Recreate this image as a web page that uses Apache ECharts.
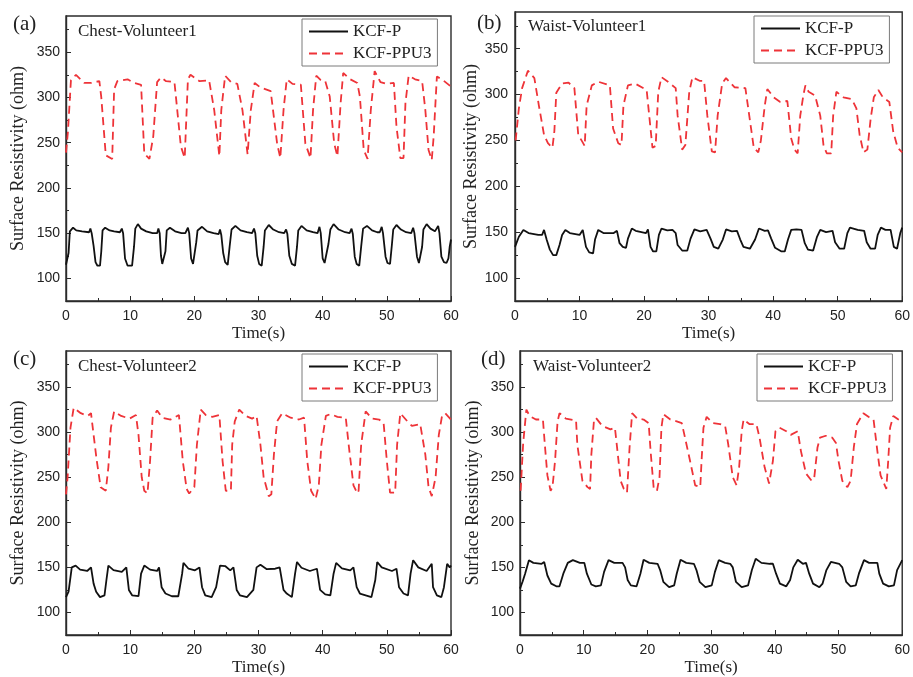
<!DOCTYPE html>
<html>
<head>
<meta charset="utf-8">
<script src="https://cdn.jsdelivr.net/npm/echarts@6/dist/echarts.min.js"></script>
<style>
html,body{margin:0;padding:0;background:#fff;}
#chart{width:913px;height:677px;}
</style>
</head>
<body>
<div id="chart"></div>
<script>
// ---- data: [time (s), surface resistivity (ohm)] ----
const aBlack = [[0,115],[0.2,114],[0.4,128],[0.6,152],[1.1,156],[1.6,153],[2.5,152],[3.6,151],[3.8,155],[4.0,150],[4.3,136],[4.6,118],[4.9,114],[5.3,114],[5.5,130],[5.7,153],[6.1,156],[6.8,153],[7.5,152],[8.4,151],[8.7,155],[8.9,150],[9.2,122],[9.6,114],[10.3,114],[10.6,135],[10.8,155],[11.2,160],[11.7,155],[12.5,152],[13.5,150],[14.2,150],[14.4,155],[14.6,150],[14.8,125],[15.0,116],[15.3,114],[15.5,130],[15.7,153],[16.2,156],[17.0,152],[18.0,150],[18.6,150],[19.0,156],[19.2,150],[19.5,122],[19.8,116],[20.1,116],[20.3,140],[20.5,153],[21.2,157],[22.0,152],[23.0,150],[23.8,149],[24.0,154],[24.2,148],[24.5,128],[24.8,118],[25.2,115],[25.5,135],[25.8,154],[26.4,158],[27.2,153],[28.2,151],[29.0,150],[29.3,155],[29.5,150],[29.8,125],[30.1,116],[30.5,114],[30.8,135],[31.0,153],[31.6,159],[32.3,154],[33.2,151],[34.0,150],[34.3,154],[34.5,149],[34.8,125],[35.2,116],[35.7,114],[36.0,135],[36.2,153],[36.7,158],[37.5,153],[38.5,151],[39.2,150],[39.5,157],[39.7,150],[40.0,122],[40.3,117],[40.6,116],[40.9,138],[41.2,154],[41.7,160],[42.5,154],[43.5,151],[44.2,150],[44.5,155],[44.7,149],[45.0,124],[45.3,116],[45.7,114],[46.0,135],[46.3,155],[46.9,158],[47.7,153],[48.5,151],[48.9,151],[49.2,157],[49.4,150],[49.8,124],[50.1,117],[50.5,116],[50.8,138],[51.0,154],[51.5,159],[52.2,154],[53.0,151],[53.8,150],[54.1,156],[54.3,150],[54.7,124],[55.0,117],[55.3,116],[55.5,135],[55.7,154],[56.2,160],[56.8,155],[57.5,152],[57.8,152],[58.0,158],[58.2,150],[58.5,124],[58.9,118],[59.3,117],[59.6,122],[59.8,135],[60,143]];
const aRed = [[0,239],[0.3,262],[0.77,319],[1.55,325],[2.85,316],[3.9,316],[5.2,318],[5.5,300],[6.2,236],[7.2,232],[7.5,309],[8.0,318],[9.6,320],[10.6,316],[11.7,314],[12.2,238],[13.0,232],[13.6,257],[14.2,317],[14.8,322],[15.6,318],[16.9,317],[17.9,246],[18.5,233],[19.0,320],[19.4,325],[20.8,318],[22.3,319],[23.1,286],[23.9,235],[24.2,286],[24.8,324],[25.7,317],[26.7,315],[27.5,286],[28.3,237],[28.8,286],[29.4,316],[30.3,311],[31.9,307],[32.9,249],[33.4,233],[33.9,286],[34.4,320],[35.3,315],[36.6,314],[37.3,249],[38.1,233],[38.5,286],[39.0,324],[39.7,319],[40.4,318],[41.1,301],[41.8,249],[42.3,235],[42.8,294],[43.2,327],[44.3,320],[45.4,316],[45.8,301],[46.4,242],[47.0,232],[47.5,286],[48.1,329],[49.0,317],[50.0,315],[51.1,316],[51.5,268],[52.1,233],[52.6,233],[52.9,294],[53.4,324],[54.4,320],[55.5,318],[56.0,286],[56.5,242],[57.0,231],[57.3,257],[57.8,323],[58.6,320],[60,312]];
const bBlack = [[0,134],[0.3,134],[0.6,145],[1.3,152.5],[2.1,149],[3.6,147],[4.2,147],[4.5,152.5],[4.9,142],[5.4,131],[5.9,125],[6.4,125],[6.9,136],[7.3,147],[7.8,152.5],[8.5,149],[10.0,147],[10.5,152.5],[11.0,134],[11.5,128],[12.1,127],[12.4,142],[12.9,152.5],[13.7,149],[15.3,149],[15.8,151.5],[16.2,138],[16.7,134],[17.2,133],[17.5,143],[18.1,154],[18.7,151.5],[20.3,149],[20.6,153],[21.0,134],[21.4,129],[21.9,129],[22.3,147],[22.7,154],[23.6,152],[24.4,152.5],[24.9,149],[25.2,136],[25.9,130],[26.7,130],[27.2,143],[27.8,153],[28.7,151],[29.7,152.5],[30.3,143],[30.8,134],[31.5,132],[32.2,142],[32.7,153],[33.6,151],[34.4,151.5],[34.9,142],[35.4,134],[36.4,132],[37.2,142],[37.8,154],[38.7,151.5],[39.2,152],[39.7,143],[40.3,133],[41.3,129],[41.8,129],[42.3,142],[42.8,152.5],[43.6,153],[44.4,152.5],[44.9,138],[45.4,131],[46.2,130],[46.8,145],[47.3,152.5],[48.2,150],[49.2,151.5],[49.6,139],[50.3,132],[51.0,132],[51.5,149],[51.9,155],[53.1,152.5],[54.1,151.5],[54.5,139],[55.1,132],[55.8,132],[56.2,147],[56.7,155],[57.4,152.5],[58.2,152.5],[58.7,134],[59.2,132],[59.7,149],[60,155]];
const bRed = [[0.1,250],[0.6,285],[1.1,307],[2.0,326],[3.0,318],[3.7,288],[4.5,256],[5.1,247],[5.8,242],[6.1,260],[6.4,302],[7.3,312],[8.3,313],[9.2,307],[9.8,256],[10.4,249],[10.8,244],[11.1,288],[11.9,310],[12.9,314],[14.7,310],[15.2,263],[16.0,247],[16.5,245],[16.8,288],[17.5,310],[18.6,312],[20.4,305],[20.9,270],[21.3,242],[21.8,244],[22.2,303],[22.7,319],[23.7,314],[24.9,307],[25.2,277],[25.9,240],[26.4,245],[27.0,303],[27.5,319],[28.6,315],[29.3,315],[29.8,277],[30.5,238],[31.0,237],[31.4,277],[32.1,312],[32.7,318],[34.0,308],[35.7,307],[36.3,277],[37.0,242],[37.7,237],[38.1,250],[38.7,288],[39.1,306],[40.1,297],[41.1,292],[42.2,293],[42.8,252],[43.3,240],[43.8,236],[44.2,277],[44.7,300],[45.0,310],[45.5,303],[46.5,299],[47.3,277],[47.8,245],[48.3,236],[49.0,236],[49.3,277],[49.8,303],[50.9,297],[52.2,295],[52.9,285],[53.4,256],[54.0,237],[54.6,240],[55.1,273],[55.6,297],[56.3,305],[57.0,297],[58.0,292],[58.6,260],[59.3,242],[60,237]];
const cBlack = [[0,117],[0.4,123],[0.9,150],[1.5,152],[2.2,147.5],[3.3,146],[3.9,150],[4.3,132],[4.7,123],[5.3,117],[6.0,119],[6.3,136],[6.6,152],[7.4,147],[8.7,145],[9.4,150],[9.8,125],[10.3,119],[11.3,118],[11.7,143],[12.2,152],[13.1,147.5],[14.2,146],[14.5,150],[14.9,128],[15.5,121],[16.5,118],[17.5,118],[18.1,143],[18.3,155],[19.1,148.5],[20.1,146.7],[20.8,150],[21.2,128],[21.7,119],[22.7,117],[23.4,128],[24.0,152],[24.8,151.5],[25.6,146.7],[26.1,150],[26.6,125],[27.1,119],[28.2,117],[29.2,125],[29.7,150],[30.3,153],[31.3,148],[32.6,148.5],[33.3,150],[33.9,125],[34.4,121],[35.2,117],[35.7,143],[36.0,156],[36.7,149.6],[38.0,146],[39.1,148.5],[39.6,125],[40.4,120],[41.2,119],[41.7,143],[42.1,155],[43.0,149],[44.3,146.7],[44.8,150],[45.3,128],[45.8,121],[47.6,117],[48.2,136],[48.5,156],[49.2,150],[50.8,146],[51.5,148.5],[51.9,128],[52.6,121],[53.3,119],[53.7,143],[54.1,158],[54.9,150],[56.2,146],[57.0,154],[57.2,128],[57.8,119],[58.5,117],[58.9,128],[59.4,154],[59.8,150],[60,152]];
const cRed = [[0,231],[0.25,250],[0.7,305],[1.2,327],[2.3,321],[3.4,318],[3.9,321],[4.3,297],[4.8,268],[5.4,239],[6.2,235],[6.6,261],[7.0,305],[7.5,323],[8.6,318],[9.9,315],[10.9,319],[11.3,297],[11.8,250],[12.2,235],[12.7,232],[13.1,268],[13.5,316],[14.2,324],[15.0,316],[16.3,314],[17.6,319],[18.2,268],[18.8,237],[19.2,232],[20.0,239],[20.4,286],[21.0,325],[21.8,319],[22.8,317],[23.9,319],[24.4,268],[24.9,235],[25.7,235],[25.9,286],[26.3,312],[27.0,325],[28.0,318],[29.0,315],[29.7,318],[30.3,286],[30.8,250],[31.6,229],[32.0,231],[32.4,275],[32.9,312],[33.7,321],[35.0,316],[36.3,314],[37.1,316],[37.6,268],[38.2,235],[38.9,226],[39.4,241],[39.8,286],[40.5,318],[41.2,320],[42.3,317],[43.6,316],[44.1,283],[44.8,241],[45.4,232],[45.6,235],[46.0,286],[46.7,323],[47.7,315],[48.8,314],[49.5,310],[50.0,268],[50.5,233],[51.3,233],[51.6,286],[52.1,321],[53.2,312],[53.9,307],[55.2,309],[56.0,275],[56.5,239],[57.0,229],[57.6,250],[58.1,297],[58.6,318],[59.1,321],[60,314]];
const dBlack = [[0,126.5],[0.4,134],[0.8,143],[1.4,158],[2.1,155],[3.4,154],[3.8,156],[4.3,141],[4.9,132],[5.7,129],[6.2,129],[6.8,143],[7.5,155],[8.3,158],[9.4,155],[10.1,155],[10.5,143],[11.2,131],[11.9,129],[12.7,130],[13.2,145],[13.9,158],[14.8,155],[16.1,155],[16.5,150],[16.9,136],[17.4,130],[18.3,129],[18.9,143],[19.4,158.5],[20.3,155],[21.6,154],[22.0,147],[22.5,134],[23.4,128],[24.2,130],[24.6,143],[25.2,158.5],[26.1,155],[27.3,154],[27.7,147],[28.2,134],[29.1,128],[30.1,130],[30.6,145],[31.2,158],[32.2,155],[33.0,154],[33.4,150],[33.9,134],[34.8,128],[35.8,130],[36.4,147],[37.0,159.6],[37.9,155],[39.2,154],[39.7,154],[40.2,143],[40.8,132],[41.8,129],[42.4,136],[42.9,150],[43.6,158.5],[44.4,154],[44.9,155],[45.4,143],[46.0,132],[47.0,128],[47.5,132],[48.1,147],[48.8,156],[50.1,154],[50.6,150],[51.2,134],[51.9,129],[52.7,130],[53.2,143],[54.0,158],[54.8,155],[56.1,155],[56.4,143],[57.0,132],[57.9,129],[58.7,130],[59.2,147],[60,158]];
const dRed = [[0.1,235],[0.5,288],[1.0,325],[1.5,318],[2.5,314],[3.6,314],[3.9,286],[4.3,252],[4.8,235],[5.1,239],[5.5,268],[5.9,312],[6.2,321],[7.2,315],[8.8,313],[9.0,286],[9.8,246],[10.6,239],[11.0,237],[11.2,275],[11.6,312],[11.9,316],[12.9,307],[14.2,303],[14.9,305],[15.3,279],[15.8,246],[16.3,237],[16.8,233],[17.2,283],[17.6,321],[18.4,315],[19.4,314],[20.2,310],[20.5,279],[21.0,237],[21.5,235],[21.9,250],[22.2,305],[22.5,320],[23.6,314],[24.6,312],[25.4,310],[25.9,294],[26.7,268],[27.5,241],[28.3,239],[28.5,268],[28.8,305],[29.3,317],[30.3,310],[31.4,309],[32.2,307],[32.7,286],[33.4,250],[34.0,241],[34.4,261],[34.8,301],[35.1,314],[36.0,309],[37.1,309],[37.6,294],[38.4,261],[39.1,243],[39.4,243],[39.7,268],[40.1,301],[40.7,305],[41.8,301],[42.5,297],[43.6,301],[44.1,279],[44.9,254],[45.8,246],[46.2,250],[46.7,283],[47.1,294],[48.0,296],[49.0,294],[49.6,288],[50.0,268],[50.6,246],[51.4,239],[51.9,246],[52.4,283],[52.9,309],[53.9,321],[54.7,317],[55.5,314],[56.1,279],[56.6,252],[57.5,237],[57.8,268],[58.1,305],[58.6,318],[59.4,314],[60,316]];

const seriesNames = ['KCF-P', 'KCF-PPU3'];
const panelLetters = ['(a)', '(b)', '(c)', '(d)'];
const panelNotes = ['Chest-Volunteer1', 'Waist-Volunteer1', 'Chest-Volunteer2', 'Waist-Volunteer2'];
const yMajorTicks = [100, 150, 200, 250, 300, 350];
const yMinorTicks = [125, 175, 225, 275, 325, 375];
const xTicks = [0, 10, 20, 30, 40, 50, 60];
const xTitle = 'Time(s)';
const yTitle = 'Surface Resistivity (ohm)';

// ---- layout / style ----
const blackData = [aBlack, bBlack, cBlack, dBlack];
const redData = [aRed, bRed, cRed, dRed];
const grids = [
  {left: 66, top: 16, width: 385, height: 285},
  {left: 515, top: 12, width: 390, height: 289},
  {left: 66, top: 351, width: 385, height: 285},
  {left: 520, top: 351, width: 385, height: 285}
];
const yNameGaps = [39, 33, 39, 38];
const yLabelMargins = [6, 7, 6, 6];
const legendPos = [{left: 302, top: 19}, {left: 754, top: 16}, {left: 302, top: 354}, {left: 757, top: 354}];
const letterPos = [[13, 24], [477, 23], [13, 359], [481, 359]];
const notePos = [[78, 32], [528, 27], [78, 367], [533, 367]];

const SERIF = '"Liberation Serif", "Times New Roman", serif';
const SANS = '"Liberation Sans", Arial, sans-serif';
const AXIS_COLOR = '#2b2b2b';
const RED = '#ee3338';
const BLACK = '#111111';

const chart = echarts.init(document.getElementById('chart'), null, {renderer: 'canvas'});

const option = {
  animation: false,
  backgroundColor: '#ffffff',
  grid: grids.map(g => Object.assign({show: true, borderColor: AXIS_COLOR, borderWidth: 1.4, backgroundColor: 'transparent'}, g)),
  xAxis: grids.map((g, i) => ({
    type: 'value', gridIndex: i, min: 0, max: 60, interval: 10,
    name: xTitle, nameLocation: 'middle', nameGap: 24,
    nameTextStyle: {fontFamily: SERIF, fontSize: 17, color: '#222'},
    axisLine: {show: true, lineStyle: {color: AXIS_COLOR, width: 1.4}},
    axisTick: {show: true, inside: true, length: 5, lineStyle: {color: AXIS_COLOR, width: 1}},
    minorTick: {show: true, splitNumber: 2, length: 3, lineStyle: {color: AXIS_COLOR, width: 1}},
    axisLabel: {fontFamily: SANS, fontSize: 14, color: '#222', margin: 8,
      customValues: xTicks},
    splitLine: {show: false}, minorSplitLine: {show: false}
  })),
  yAxis: [],
  legend: [],
  series: [],
  graphic: []
};

grids.forEach((g, i) => {
  option.yAxis.push({
    type: 'value', gridIndex: i, min: 75, max: 390,
    name: yTitle, nameLocation: 'middle', nameGap: yNameGaps[i],
    nameTextStyle: {fontFamily: SERIF, fontSize: 18, color: '#222'},
    axisLine: {show: true, lineStyle: {color: AXIS_COLOR, width: 1.4}},
    axisTick: {show: true, inside: true, length: 5, customValues: yMajorTicks, lineStyle: {color: AXIS_COLOR, width: 1}},
    axisLabel: {fontFamily: SANS, fontSize: 14, color: '#222', margin: yLabelMargins[i], customValues: yMajorTicks},
    splitLine: {show: false}
  });
  option.yAxis.push({
    type: 'value', gridIndex: i, min: 75, max: 390, position: 'left',
    axisLine: {show: false},
    axisTick: {show: true, inside: true, length: 3, customValues: yMinorTicks, lineStyle: {color: AXIS_COLOR, width: 1}},
    axisLabel: {show: false},
    splitLine: {show: false}
  });
  option.series.push({
    name: seriesNames[0], type: 'line', xAxisIndex: i, yAxisIndex: 2 * i,
    data: blackData[i], symbol: 'none', showSymbol: false, smooth: false,
    lineStyle: {color: BLACK, width: 1.8, type: 'solid'}, itemStyle: {color: BLACK}, z: 3
  });
  option.series.push({
    name: seriesNames[1], type: 'line', xAxisIndex: i, yAxisIndex: 2 * i,
    data: redData[i], symbol: 'none', showSymbol: false, smooth: false,
    lineStyle: {color: RED, width: 1.8, type: [8, 5]}, itemStyle: {color: RED}, z: 2
  });
  option.legend.push(Object.assign({
    orient: 'vertical', data: seriesNames,
    itemWidth: 39, itemHeight: 14, itemGap: 5,
    padding: [4, 6, 4, 6],
    borderColor: '#7a7a7a', borderWidth: 1, backgroundColor: '#fff',
    itemStyle: {opacity: 0},
    textStyle: {fontFamily: SERIF, fontSize: 17, color: '#222'},
    selectedMode: false
  }, legendPos[i]));
  option.graphic.push({
    type: 'text', x: letterPos[i][0], y: letterPos[i][1],
    style: {text: panelLetters[i], font: '21px ' + SERIF, fill: '#222', verticalAlign: 'middle', align: 'left'}
  });
  option.graphic.push({
    type: 'text', x: notePos[i][0], y: notePos[i][1],
    style: {text: panelNotes[i], font: '17px ' + SERIF, fill: '#222', verticalAlign: 'middle', align: 'left'}
  });
});

chart.setOption(option);
</script>
</body>
</html>
